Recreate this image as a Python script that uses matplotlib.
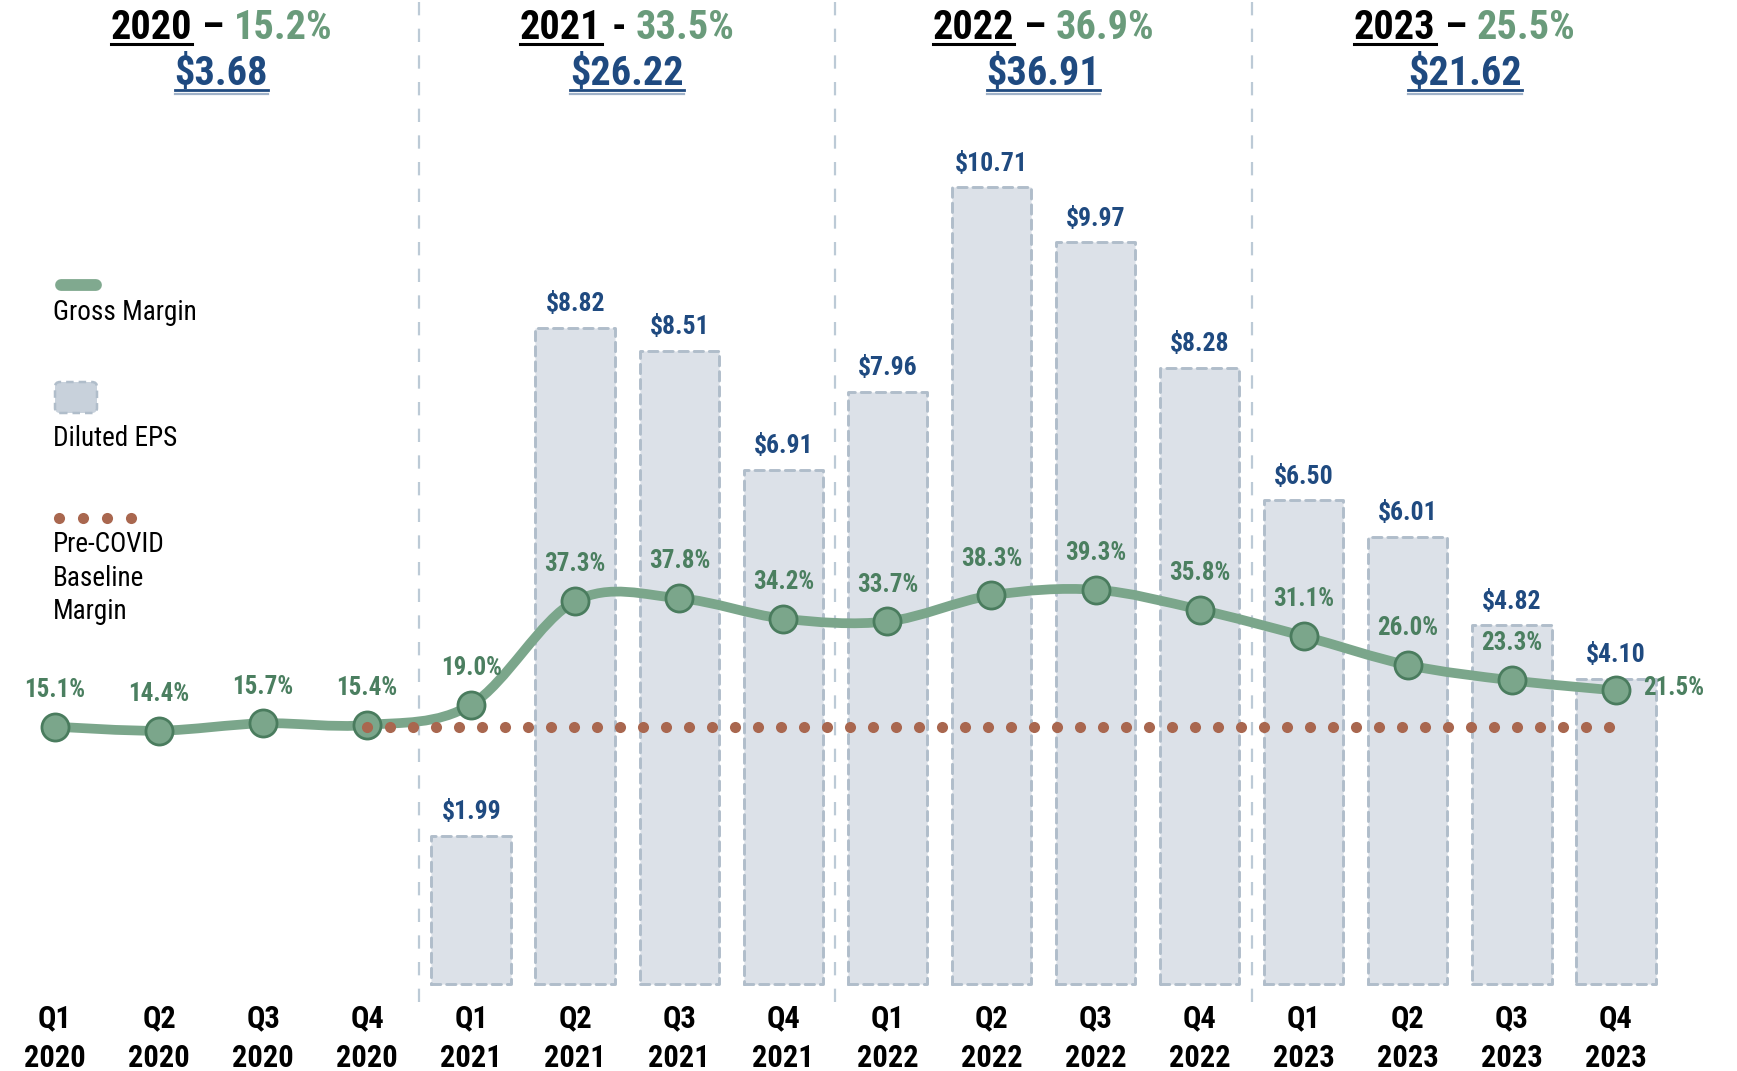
import numpy as np
import matplotlib
matplotlib.use("Agg")
import matplotlib.pyplot as plt
from matplotlib import font_manager
from matplotlib.path import Path
from matplotlib.patches import PathPatch, FancyBboxPatch
from matplotlib.lines import Line2D
from matplotlib.transforms import IdentityTransform

# data
quarters = ["Q1", "Q2", "Q3", "Q4"] * 4
quarter_years = ["2020"] * 4 + ["2021"] * 4 + ["2022"] * 4 + ["2023"] * 4
gross_margin = [15.1, 14.4, 15.7, 15.4, 19.0, 37.3, 37.8, 34.2,
                33.7, 38.3, 39.3, 35.8, 31.1, 26.0, 23.3, 21.5]
diluted_eps = [np.nan, np.nan, np.nan, np.nan, 1.99, 8.82, 8.51, 6.91,
               7.96, 10.71, 9.97, 8.28, 6.50, 6.01, 4.82, 4.10]
baseline_margin = 15.1
years = ["2020", "2021", "2022", "2023"]
year_sep = ["\u2013", "-", "\u2013", "\u2013"]
year_margin = ["15.2%", "33.5%", "36.9%", "25.5%"]
year_eps = ["$3.68", "$26.22", "$36.91", "$21.62"]

# colours
BAR_FACE = "#dce1e8"
BAR_EDGE = "#b0bdca"
LINE_COL = "#7ba68b"
MARK_EDGE = "#4a7c5e"
PCT_COL = "#4b7f60"
HEAD_PCT = "#6a9b7b"
EPS_COL = "#1f4a80"
DOT_COL = "#a9674f"
DIV_COL = "#bccad6"

# pick a narrow font if one is around
names = {f.name for f in font_manager.fontManager.ttflist}
narrow = None
for cand in ["Liberation Sans Narrow", "Arial Narrow", "Roboto Condensed",
             "Open Sans Condensed", "Noto Sans Condensed"]:
    if cand in names:
        narrow = cand
        break
if narrow:
    plt.rcParams["font.family"] = [narrow, "DejaVu Sans"]
    k = 1.0
else:
    plt.rcParams["font.family"] = ["DejaVu Sans"]
    plt.rcParams["font.stretch"] = "condensed"
    k = 0.9

W, H = 1737, 1071
fig = plt.figure(figsize=(W / 100, H / 100), dpi=100)
ax = fig.add_axes([0, 0, 1, 1])
ax.axis("off")
ax.set_xlim(-0.5286, 16.165)
ax.set_ylim(-1.177, 13.23)
ax2 = ax.twinx()
ax2.axis("off")
ax2.set_ylim(-45.73, 143.5)
ax2.set_xlim(-0.5286, 16.165)

x = np.arange(len(gross_margin))
eps = np.array(diluted_eps)
has = ~np.isnan(eps)

# bars
bars = ax.bar(x[has], eps[has], width=0.765, color=BAR_FACE, edgecolor=BAR_EDGE,
              linewidth=2.1, linestyle=(0, (3.2, 2.0)), zorder=1)
for b in bars:
    b.set_capstyle("round")
    b.set_joinstyle("round")
for xi, v in zip(x[has], eps[has]):
    ax.annotate(f"${v:.2f}", (xi, v), xytext=(0, 12), textcoords="offset points",
                ha="center", va="baseline", fontsize=18.5 * k, fontweight="bold",
                color=EPS_COL, zorder=6)

# year dividers
xt = ax.get_xaxis_transform()
ax.vlines([3.5, 7.5, 11.5], 1 - 1002 / H, 1, transform=xt, colors=DIV_COL,
          linewidth=1.6, linestyles=(0, (6, 6)), zorder=0)

# smooth gross margin line (catmull-rom -> bezier)
pts = np.column_stack([x, gross_margin]).astype(float)
ext = np.vstack([pts[0], pts, pts[-1]])
verts = [tuple(pts[0])]
codes = [Path.MOVETO]
for i in range(len(pts) - 1):
    p0, p1, p2, p3 = ext[i], ext[i + 1], ext[i + 2], ext[i + 3]
    c1 = p1 + (p2 - p0) / 6
    c2 = p2 - (p3 - p1) / 6
    verts += [tuple(c1), tuple(c2), tuple(p2)]
    codes += [Path.CURVE4] * 3
ax2.add_patch(PathPatch(Path(verts, codes), facecolor="none", edgecolor=LINE_COL,
                        linewidth=7, capstyle="round", zorder=3))
ax2.plot(x, gross_margin, "o", ms=19.5, mfc=LINE_COL, mec=MARK_EDGE, mew=2, zorder=4)

# pre-covid baseline dots
bx = np.arange(3, 14.95, 0.2211)
ax2.scatter(bx, np.full(len(bx), baseline_margin), s=8 ** 2, color=DOT_COL,
            linewidths=0, zorder=5)

for i, (xi, m) in enumerate(zip(x, gross_margin)):
    off = (42, 2) if i == len(x) - 1 else (0, 26.5)
    ax2.annotate(f"{m:.1f}%", (xi, m), xytext=off, textcoords="offset points",
                 ha="center", va="center", fontsize=18 * k, fontweight="bold",
                 color=PCT_COL, zorder=6)

# quarter labels
for xi, q, yr in zip(x, quarters, quarter_years):
    ax.text(xi, 1 - 1018 / H, q, transform=xt, ha="center", va="center",
            fontsize=22 * k, fontweight="bold", color="black")
    ax.text(xi, 1 - 1058 / H, yr, transform=xt, ha="center", va="center",
            fontsize=22 * k, fontweight="bold", color="black")

# year headers with underlines
renderer = fig.canvas.get_renderer()


def header_row(xc, base_px, parts, size):
    texts = []
    for s, c, ul in parts:
        t = fig.text(0, 1 - base_px / H, s, fontsize=size, fontweight="bold",
                     color=c, ha="left", va="baseline")
        texts.append(t)
    widths = [t.get_window_extent(renderer).width for t in texts]
    gap = 0.24 * size * 100 / 72
    total = sum(widths) + gap * (len(texts) - 1)
    cx = ax.transData.transform((xc, 0))[0]
    x0 = cx - total / 2
    for t, w, (s, c, ul) in zip(texts, widths, parts):
        t.set_x(x0 / W)
        if ul:
            for dy, col, lw in ul:
                fig.add_artist(Line2D([x0 / W, (x0 + w) / W],
                                      [1 - (base_px + dy) / H] * 2,
                                      transform=fig.transFigure, color=col, lw=lw))
        x0 += w + gap


header_x = [1.6, 5.5, 9.5, 13.55]
for hx, yr, sep, ym, ye in zip(header_x, years, year_sep, year_margin, year_eps):
    header_row(hx, 39, [(yr, "black", [(5, "black", 2.2)]),
                        (sep, "black", None),
                        (ym, HEAD_PCT, None)], 29 * k)
    header_row(hx, 85, [(ye, EPS_COL, [(5, EPS_COL, 2.0), (8.5, "#9fb1c8", 1.6)])], 29 * k)

# legend (drawn by hand, left side)
fig.add_artist(Line2D([61, 96], [H - 285, H - 285], transform=IdentityTransform(),
                      color="#80a98f", lw=8.5, solid_capstyle="round"))
fig.text(53 / W, 1 - 312 / H, "Gross Margin", fontsize=19.5 * k, va="center", ha="left")
fig.add_artist(FancyBboxPatch((55, H - 413), 42, 31, boxstyle="round,pad=0,rounding_size=5",
                              transform=IdentityTransform(), facecolor="#c8d1db",
                              edgecolor=BAR_EDGE, linewidth=1.8, linestyle=(0, (3, 2))))
fig.text(53 / W, 1 - 438 / H, "Diluted EPS", fontsize=19.5 * k, va="center", ha="left")
lx = 59 + 24 * np.arange(4)
fig.add_artist(Line2D(lx, np.full(4, H - 518), transform=IdentityTransform(),
                      linestyle="none", marker="o", ms=8, mfc=DOT_COL, mec="none"))
fig.text(53 / W, 1 - 578 / H, "Pre-COVID\nBaseline\nMargin", fontsize=19.5 * k,
         va="center", ha="left", linespacing=1.3)

fig.savefig("out.png", dpi=100)
